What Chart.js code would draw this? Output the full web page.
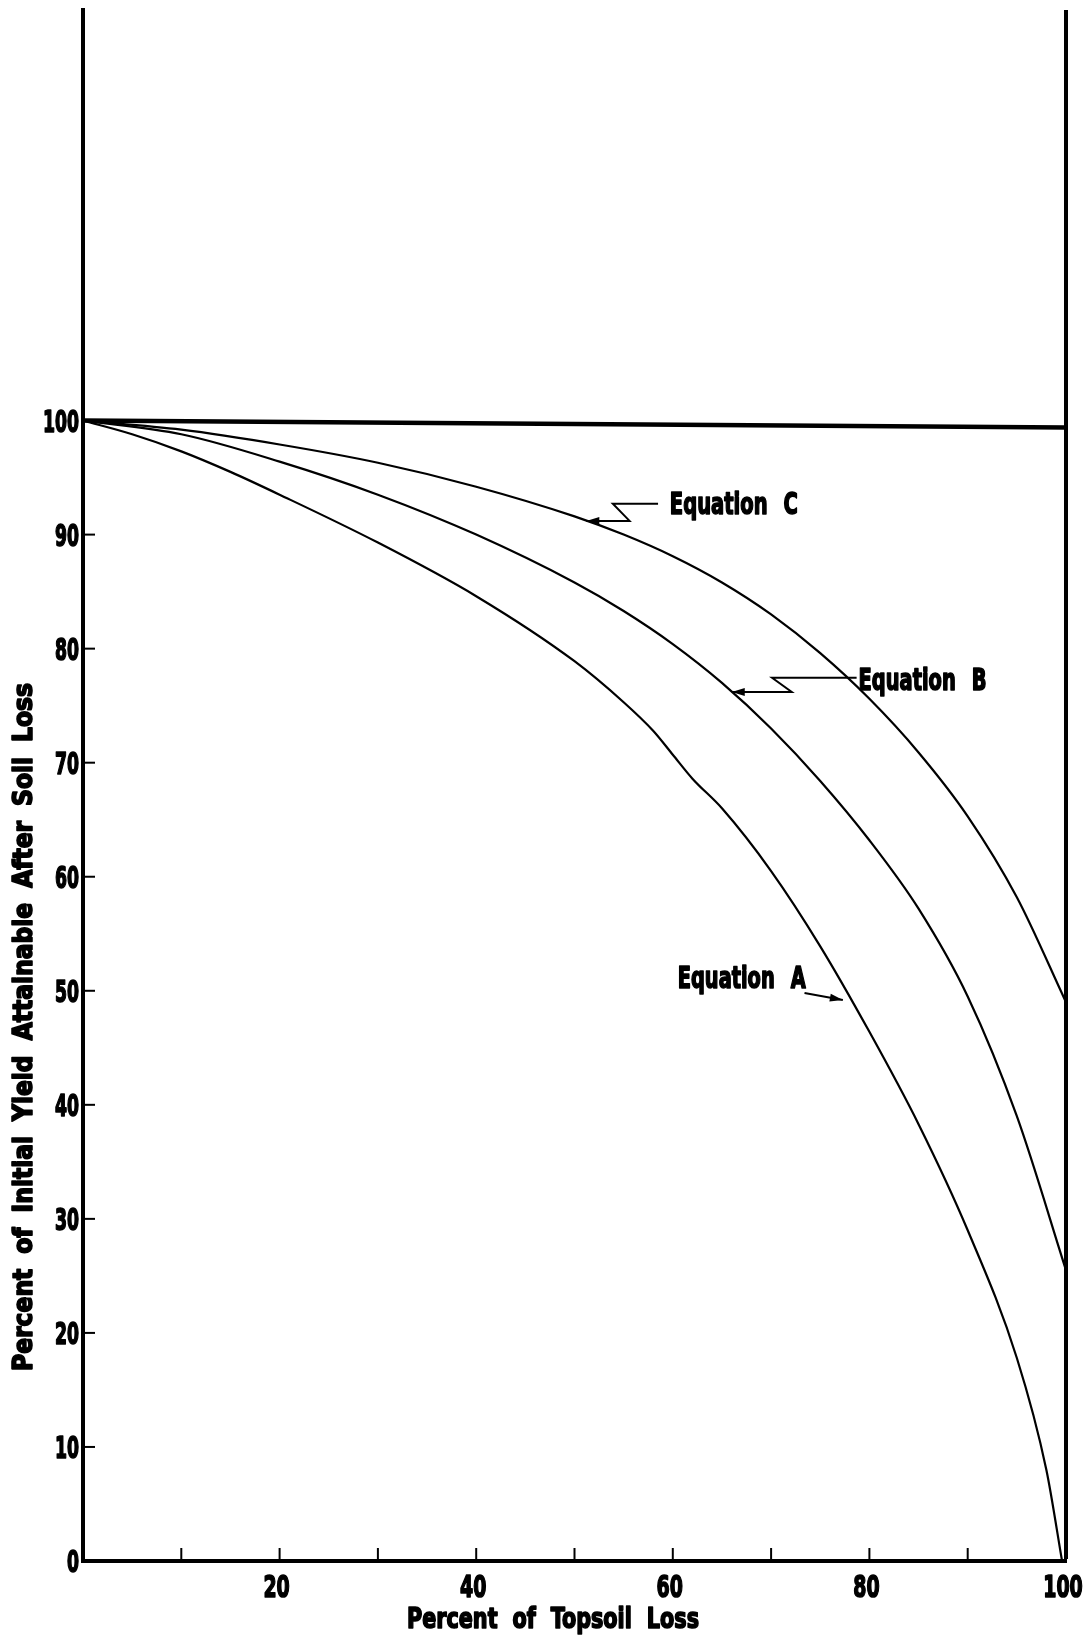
<!DOCTYPE html>
<html>
<head>
<meta charset="utf-8">
<title>Yield vs topsoil loss</title>
<script src="https://cdn.jsdelivr.net/npm/chart.js@4.4.0/dist/chart.umd.min.js"></script>
<style>
  html, body { margin: 0; padding: 0; background: #fff; }
  canvas { display: block; }
</style>
</head>
<body>
<canvas id="yieldChart" width="1088" height="1636"></canvas>
<script>
// Values: percent of topsoil loss (x), percent of initial yield (y)
const lossA = [0, 5, 10, 15, 20, 30, 40, 50, 55, 58, 60, 62, 65, 70, 75, 80, 85, 90, 95, 98, 99.6];
const yieldA = [100, 98.8, 97.3, 95.5, 93.5, 89.3, 84.6, 78.9, 75.3, 72.8, 70.7, 68.6, 66.0, 60.5, 53.9, 46.4, 38.3, 29.0, 17.8, 8.0, 0];

const lossB = [0, 10, 20, 30, 40, 50, 55, 60, 65, 70, 75, 80, 85, 90, 95, 100];
const yieldB = [100, 98.8, 96.4, 93.5, 90.0, 85.8, 83.3, 80.4, 77.0, 73.0, 68.4, 63.2, 57.2, 49.5, 39.0, 25.5];

const lossC = [0, 10, 20, 30, 40, 50, 55, 60, 65, 70, 75, 80, 85, 90, 95, 100];
const yieldC = [100, 99.2, 97.9, 96.3, 94.2, 91.6, 90.0, 88.1, 85.8, 83.0, 79.6, 75.6, 70.9, 65.3, 58.2, 49.0];

// the 100% reference line across the top
const lossTop = [0, 100];
const yieldTop = [100, 99.4];

// axis ticks
const xTickValues = [0, 10, 20, 30, 40, 50, 60, 70, 80, 90, 100];
const xTickLabels = ["", "", "20", "", "40", "", "60", "", "80", "", "100"];
const yTickValues = [0, 10, 20, 30, 40, 50, 60, 70, 80, 90, 100];
const yTickLabels = ["0", "10", "20", "30", "40", "50", "60", "70", "80", "90", "100"];

const xTitle = "Percent of Topsoil Loss";
const yTitle = "Percent of Initial Yield Attainable After Soil Loss";

// curve labels with their leader arrows (data units)
const noteLabels = ["Equation C", "Equation B", "Equation A"];
const noteAnchors = [[59.7, 92.75], [78.9, 77.3], [60.5, 51.2]];
const notePaths = [
    [[58.5, 92.7], [53.9, 92.7], [55.6, 91.2], [51.2, 91.2]],
    [[78.7, 77.45], [70.1, 77.45], [72.1, 76.2], [66.0, 76.2]],
    [[73.4, 49.8], [77.3, 49.2]],
];

const FONT = "'DejaVu Sans Condensed', 'DejaVu Sans', sans-serif";
Chart.defaults.font.family = FONT;
Chart.defaults.color = "#000";

const toPoints = (xs, ys) => xs.map((x, i) => ({ x: x, y: ys[i] }));

// the original lettering is a tall, very narrow, heavy face: squeeze DejaVu horizontally.
// opts: size, align, and either squeeze (fixed factor) or width + gap (fit words to a width)
function narrowText(ctx, text, x, y, opts) {
    ctx.save();
    ctx.font = "bold " + opts.size + "px " + FONT;
    ctx.wordSpacing = "0px";
    const natural = ctx.measureText(text).width;
    let k = opts.squeeze || 1;
    let w = natural * k;
    const gaps = text.split(" ").length - 1;
    if (opts.width && gaps > 0) {
        const space = ctx.measureText(" ").width;
        k = (opts.width - gaps * opts.gap) / (natural - gaps * space);
        ctx.wordSpacing = (opts.gap / k - space) + "px";
        w = opts.width;
    }
    const left = opts.align === "center" ? x - w / 2 : opts.align === "right" ? x - w : x;
    ctx.translate(left, y + opts.size * 0.365);
    ctx.scale(k, 1);
    ctx.textAlign = "left";
    ctx.textBaseline = "alphabetic";
    ctx.lineWidth = 1.6;
    ctx.lineJoin = "round";
    ctx.fillText(text, 0, 0);
    ctx.strokeText(text, 0, 0);
    ctx.restore();
}

const paperPlugin = {
    id: "paper",
    afterDraw(chart) {
        const { ctx, scales } = chart;
        const xs = scales.x, ys = scales.y;
        const area = chart.chartArea;
        ctx.save();
        ctx.strokeStyle = "#000";
        ctx.fillStyle = "#000";

        // inward tick marks
        ctx.lineWidth = 2;
        xTickValues.forEach((v) => {
            if (v === 0 || v === 100) return;
            const px = xs.getPixelForValue(v);
            ctx.beginPath();
            ctx.moveTo(px, area.bottom);
            ctx.lineTo(px, area.bottom - 13);
            ctx.stroke();
        });
        yTickValues.forEach((v) => {
            if (v === 0 || v === 100) return;
            const py = ys.getPixelForValue(v);
            ctx.beginPath();
            ctx.moveTo(area.left, py);
            ctx.lineTo(area.left + 12, py);
            ctx.stroke();
        });

        // tick labels
        xTickValues.forEach((v, i) => {
            if (!xTickLabels[i]) return;
            narrowText(ctx, xTickLabels[i], xs.getPixelForValue(v) - 3, area.bottom + 25,
                { size: 31, squeeze: 0.68, align: "center" });
        });
        yTickValues.forEach((v, i) => {
            narrowText(ctx, yTickLabels[i], area.left - 4, ys.getPixelForValue(v),
                { size: 30, squeeze: 0.64, align: "right" });
        });

        // leader arrows
        ctx.lineWidth = 2;
        notePaths.forEach((path) => {
            const pts = path.map((p) => [xs.getPixelForValue(p[0]), ys.getPixelForValue(p[1])]);
            ctx.beginPath();
            pts.forEach((p, i) => (i ? ctx.lineTo(p[0], p[1]) : ctx.moveTo(p[0], p[1])));
            ctx.stroke();
            const [x1, y1] = pts[pts.length - 2];
            const [x2, y2] = pts[pts.length - 1];
            const a = Math.atan2(y2 - y1, x2 - x1);
            ctx.beginPath();
            ctx.moveTo(x2, y2);
            ctx.lineTo(x2 - 13 * Math.cos(a) + 4 * Math.sin(a), y2 - 13 * Math.sin(a) - 4 * Math.cos(a));
            ctx.lineTo(x2 - 13 * Math.cos(a) - 4 * Math.sin(a), y2 - 13 * Math.sin(a) + 4 * Math.cos(a));
            ctx.closePath();
            ctx.fill();
        });

        // curve labels
        noteLabels.forEach((label, i) => {
            const [vx, vy] = noteAnchors[i];
            narrowText(ctx, label, xs.getPixelForValue(vx), ys.getPixelForValue(vy),
                { size: 30, align: "left", width: 128, gap: 16 });
        });

        // axis titles
        narrowText(ctx, xTitle, 553, 1618, { size: 28, align: "center", width: 292, gap: 15 });

        ctx.translate(23, 1027);
        ctx.rotate(-Math.PI / 2);
        narrowText(ctx, yTitle, 0, 0, { size: 26, align: "center", width: 688, gap: 15 });
        ctx.restore();
    },
};

const ctx = document.getElementById("yieldChart");

new Chart(ctx, {
    type: "line",
    data: {
        datasets: [
            { label: "100%", data: toPoints(lossTop, yieldTop), borderWidth: 4.5, tension: 0 },
            { label: "Equation C", data: toPoints(lossC, yieldC), borderWidth: 2.2, cubicInterpolationMode: "monotone" },
            { label: "Equation B", data: toPoints(lossB, yieldB), borderWidth: 2.2, cubicInterpolationMode: "monotone" },
            { label: "Equation A", data: toPoints(lossA, yieldA), borderWidth: 2.2, cubicInterpolationMode: "monotone" },
        ].map((d) => Object.assign({ borderColor: "#000", pointRadius: 0, fill: false }, d)),
    },
    options: {
        responsive: false,
        animation: false,
        events: [],
        layout: { padding: { top: 10, right: 22, left: 0, bottom: 0 } },
        plugins: { legend: { display: false }, tooltip: { enabled: false } },
        scales: {
            x: {
                type: "linear",
                min: 0,
                max: 100,
                afterBuildTicks: (scale) => {
                    scale.ticks = xTickValues.map((v) => ({ value: v }));
                },
                afterFit: (scale) => {
                    scale.height = 75;
                },
                ticks: { display: false },
                grid: {
                    drawTicks: false,
                    color: (c) => (c.tick && c.tick.value === 100 ? "#000" : "rgba(0,0,0,0)"),
                    lineWidth: (c) => (c.tick && c.tick.value === 100 ? 4 : 1),
                },
                border: { color: "#000", width: 4 },
            },
            y: {
                type: "linear",
                min: 0,
                max: 136,
                afterBuildTicks: (scale) => {
                    scale.ticks = yTickValues.map((v) => ({ value: v }));
                },
                afterFit: (scale) => {
                    scale.width = 83;
                },
                ticks: { display: false },
                grid: { drawTicks: false, drawOnChartArea: false },
                border: { color: "#000", width: 4 },
            },
        },
    },
    plugins: [paperPlugin],
});
</script>
</body>
</html>
